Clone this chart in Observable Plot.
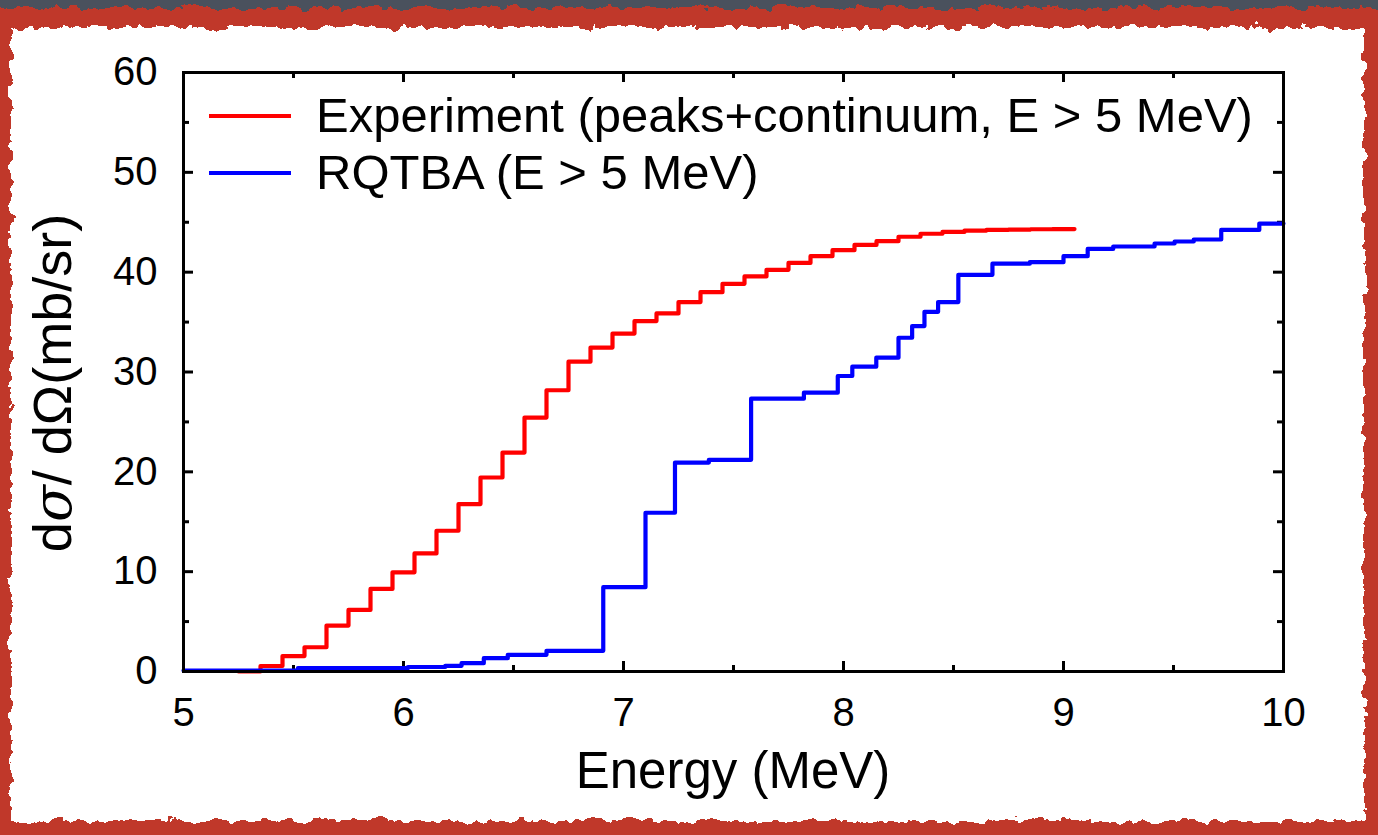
<!DOCTYPE html>
<html><head><meta charset="utf-8">
<script src="https://cdn.jsdelivr.net/npm/d3@7"></script>
<script src="https://cdn.jsdelivr.net/npm/@observablehq/plot@0.6"></script>
<style>
html,body{margin:0;padding:0;}
body{width:1378px;height:835px;background:#4a515d;position:relative;overflow:hidden;font-family:"Liberation Sans",Arial,Helvetica,sans-serif;}
#bg{position:absolute;left:0;top:0;}
#chart{position:absolute;left:0;top:0;}
#legend{position:absolute;left:209px;top:87px;font-size:49px;color:#000;line-height:57px;}
#legend .row{display:flex;align-items:center;height:57px;white-space:nowrap;}
#legend .sw{width:82px;height:4px;margin-right:25px;}
#xlabel{position:absolute;left:183px;width:1100px;top:741px;text-align:center;font-size:51px;color:#000;}
#ylabel{position:absolute;left:52px;top:383px;transform:translate(-50%,-50%) rotate(-90deg);font-size:54px;white-space:nowrap;color:#000;}
</style></head>
<body>
<svg id="bg" width="1378" height="835">
  <defs>
    <filter id="rough" x="-2%" y="-2%" width="104%" height="104%">
      <feTurbulence type="fractalNoise" baseFrequency="0.08" numOctaves="3" seed="4" result="n"/>
      <feDisplacementMap in="SourceGraphic" in2="n" scale="14" xChannelSelector="R" yChannelSelector="G"/>
    </filter>
  </defs>
  <rect x="0" y="0" width="1378" height="835" fill="#4a515d"/>
  <rect x="-10" y="8" width="1400" height="840" fill="#c0392b" filter="url(#rough)"/>
  <rect x="11" y="27" width="1353" height="794" fill="#ffffff" filter="url(#rough)"/>
</svg>
<div id="chart"></div>
<div id="legend"></div>
<div id="xlabel"></div>
<div id="ylabel">d<i style="font-family:'DejaVu Serif',serif;">σ</i>/ dΩ(mb/sr)</div>
<script>
// Series names / legend
const seriesNames = ["Experiment (peaks+continuum, E > 5 MeV)", "RQTBA (E > 5 MeV)"];
const seriesColors = ["#ff0000", "#0000ff"];
const xTitle = "Energy (MeV)";

// Experiment: bin edges (MeV) and cumulative cross section values (mb/sr)
const expEdges = [5.25,5.35,5.45,5.55,5.65,5.75,5.85,5.95,6.05,6.15,6.25,6.35,6.45,6.55,6.65,6.75,6.85,6.95,7.05,7.15,7.25,7.35,7.45,7.55,7.65,7.75,7.85,7.95,8.05,8.15,8.25,8.35,8.45,8.55,8.65,8.75,8.85,8.95,9.05];
const expValues = [0,0.55,1.55,2.43,4.6,6.17,8.27,9.93,11.83,14.1,16.77,19.43,21.93,25.43,28.17,31.03,32.45,33.85,35.1,35.87,37.0,38.0,38.83,39.57,40.23,40.93,41.6,42.2,42.73,43.1,43.55,43.85,44.03,44.17,44.23,44.27,44.3,44.32];

// RQTBA: step edges (MeV) and values (mb/sr)
const thEdges = [5.0,5.52,6.02,6.19,6.264,6.365,6.474,6.65,6.908,7.1,7.234,7.388,7.58,7.82,7.974,8.04,8.149,8.25,8.312,8.368,8.43,8.522,8.677,8.847,9.0,9.11,9.226,9.414,9.505,9.592,9.717,9.89,10.0];
const thValues = [0.1,0.33,0.45,0.57,0.83,1.33,1.67,2.07,8.45,15.9,20.93,21.2,27.33,27.93,29.6,30.53,31.43,33.43,34.6,36.03,37.0,39.73,40.85,41.0,41.6,42.33,42.57,42.87,43.07,43.27,44.23,44.87];

// Ticks
const xMajor = [5,6,7,8,9,10];
const xMinor = [5.5,6.5,7.5,8.5,9.5];
const yMajor = [0,10,20,30,40,50,60];
const yMinor = [5,15,25,35,45,55];

function steps(edges, values) {
  const pts = values.map((v, i) => ({x: edges[i], y: v}));
  pts.push({x: edges[edges.length - 1], y: values[values.length - 1]});
  return pts;
}
const expData = steps(expEdges, expValues);
const thData = steps(thEdges, thValues);

const W = 1378, H = 835;
const mL = 183, mR = 95, mT = 72, mB = 164;
const fw = W - mL - mR, fh = H - mT - mB;
const majLen = 10, minLen = 6;

const plot = Plot.plot({
  width: W, height: H,
  marginLeft: mL, marginRight: mR, marginTop: mT, marginBottom: mB,
  style: {background: "transparent", fontFamily: "'Liberation Sans', Arial, Helvetica, sans-serif", color: "#000", overflow: "visible"},
  x: {domain: [5, 10]},
  y: {domain: [0, 60]},
  marks: [
    Plot.ruleX(xMajor, {x: d => d, insetTop: fh - majLen, stroke: "#000", strokeWidth: 3}),
    Plot.ruleX(xMajor, {x: d => d, insetBottom: fh - majLen, stroke: "#000", strokeWidth: 3}),
    Plot.ruleX(xMinor, {x: d => d, insetTop: fh - minLen, stroke: "#000", strokeWidth: 3}),
    Plot.ruleX(xMinor, {x: d => d, insetBottom: fh - minLen, stroke: "#000", strokeWidth: 3}),
    Plot.ruleY(yMajor, {y: d => d, insetRight: fw - majLen, stroke: "#000", strokeWidth: 3}),
    Plot.ruleY(yMajor, {y: d => d, insetLeft: fw - majLen, stroke: "#000", strokeWidth: 3}),
    Plot.ruleY(yMinor, {y: d => d, insetRight: fw - minLen, stroke: "#000", strokeWidth: 3}),
    Plot.ruleY(yMinor, {y: d => d, insetLeft: fw - minLen, stroke: "#000", strokeWidth: 3}),
    Plot.line(expData, {x: "x", y: "y", curve: "step-after", stroke: seriesColors[0], strokeWidth: 4.2}),
    Plot.line(thData, {x: "x", y: "y", curve: "step-after", stroke: seriesColors[1], strokeWidth: 4.2}),
    Plot.frame({stroke: "#000", strokeWidth: 3}),
    Plot.axisX({ticks: xMajor, tickSize: 0, tickPadding: 26, fontSize: 40, label: null, tickFormat: d => String(d)}),
    Plot.axisY({ticks: yMajor, tickSize: 0, tickPadding: 26, fontSize: 40, label: null, tickFormat: d => String(d)})
  ]
});
document.getElementById("chart").appendChild(plot);

const legend = document.getElementById("legend");
seriesNames.forEach((name, i) => {
  const row = document.createElement("div");
  row.className = "row";
  const sw = document.createElement("div");
  sw.className = "sw";
  sw.style.background = seriesColors[i];
  const t = document.createElement("span");
  t.textContent = name;
  row.appendChild(sw); row.appendChild(t);
  legend.appendChild(row);
});
document.getElementById("xlabel").textContent = xTitle;
</script>
</body></html>
